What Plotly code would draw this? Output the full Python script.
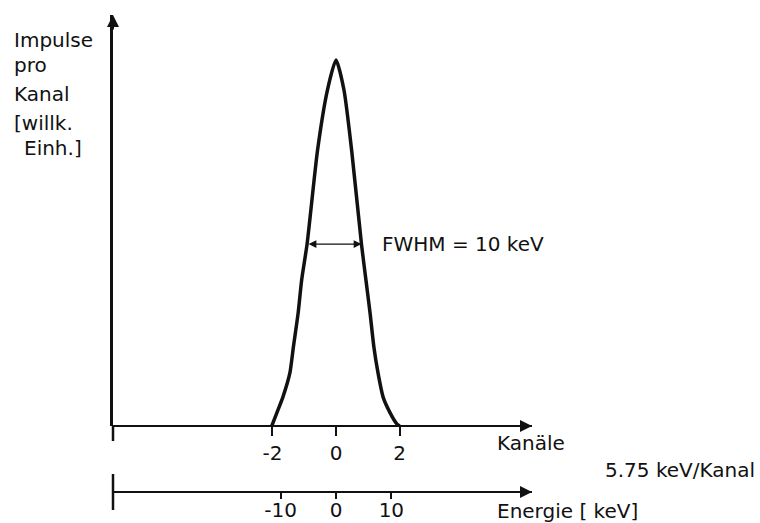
import plotly.graph_objects as go

# ---- data ----
# peak profile, x in channels, y in arbitrary units (peak = 100)
chan = [-2.02, -1.86, -1.67, -1.45, -1.34, -1.19, -1.08, -0.91, -0.58, -0.27, 0.0,
        0.25, 0.49, 0.80, 0.94, 1.07, 1.19, 1.32, 1.48, 1.70, 1.91, 2.0]
counts = [0.0, 3.6, 7.9, 14.5, 21.6, 30.9, 39.9, 49.7, 75.4, 91.8, 100.0,
          91.8, 75.4, 49.7, 39.9, 30.9, 21.6, 14.5, 7.9, 3.6, 0.6, 0.0]

chan_ticks = [-2, 0, 2]
chan_ticktext = ["-2", "0", "2"]
kev_ticks = [-10, 0, 10]
kev_ticktext = ["-10", "0", "10"]
kev_per_channel = 5.75
fwhm_left, fwhm_right, half_max = -0.91, 0.80, 49.7  # channels / counts

ylabel_lines = ["Impulse", "pro", "Kanal", "[willk.", "Einh.]"]

# ---- layout geometry ----
W, H = 760, 523
L, R, T, B = 113, 228, 15, 31
PW, PH = W - L - R, H - T - B
FONT = "DejaVu Sans"
FS = 20
INK = "#111111"

def xp(px):
    return (px - L) / PW

def yp(py):
    return (H - B - py) / PH

x_range = [-7.01, 6.16]
y_dom0 = yp(426)

fig = go.Figure()
fig.add_trace(go.Scatter(x=chan, y=counts, mode="lines",
                         line=dict(color=INK, width=3.5, shape="spline", smoothing=0.6),
                         hoverinfo="skip", showlegend=False))
# invisible trace so the energy axis is drawn
fig.add_trace(go.Scatter(x=kev_ticks, y=[None] * len(kev_ticks), xaxis="x2", yaxis="y",
                         mode="markers", marker=dict(opacity=0), showlegend=False,
                         hoverinfo="skip"))

fig.update_layout(
    width=W, height=H, margin=dict(l=L, r=R, t=T, b=B, autoexpand=False),
    paper_bgcolor="white", plot_bgcolor="white",
    font=dict(family=FONT, size=FS, color=INK),
    showlegend=False,
    xaxis=dict(range=x_range, anchor="free", position=y_dom0, automargin=False,
               showline=True, linecolor=INK, linewidth=2,
               tickvals=chan_ticks, ticktext=chan_ticktext,
               ticks="outside", ticklen=9, tickwidth=1.5, tickcolor=INK,
               tickfont=dict(size=20),
               showgrid=False, zeroline=False, fixedrange=True),
    xaxis2=dict(range=[v * kev_per_channel for v in x_range], overlaying="x",
                anchor="free", position=0, side="bottom", automargin=False,
                showline=True, linecolor=INK, linewidth=2,
                tickvals=kev_ticks, ticktext=kev_ticktext,
                ticks="outside", ticklen=6, tickwidth=1.5, tickcolor=INK,
                tickfont=dict(size=20), ticklabelstandoff=-6,
                showgrid=False, zeroline=False, fixedrange=True),
    yaxis=dict(range=[0, 112.3], domain=[y_dom0, 1], anchor="x", automargin=False,
               showline=True, linecolor=INK, linewidth=2.5,
               showticklabels=False, ticks="",
               showgrid=False, zeroline=False, fixedrange=True),
)

# axis extensions / end bars
fig.add_shape(type="line", xref="paper", yref="paper", x0=0, x1=0,
              y0=y_dom0, y1=yp(441), line=dict(color=INK, width=2.5))
fig.add_shape(type="line", xref="paper", yref="paper", x0=0, x1=0,
              y0=yp(474), y1=yp(510), line=dict(color=INK, width=2.5))

# arrowheads of the axes
arrow = dict(text="", showarrow=True, arrowhead=2, arrowsize=1.2, arrowwidth=2,
             arrowcolor=INK, xref="paper", yref="paper")
fig.add_annotation(x=1, y=y_dom0, ax=-14, ay=0, **arrow)
fig.add_annotation(x=1, y=0, ax=-14, ay=0, **arrow)
fig.add_annotation(x=0, y=1, ax=0, ay=16, **arrow)

# FWHM double arrow
fig.add_annotation(x=fwhm_right, y=half_max, ax=fwhm_left, ay=half_max,
                   xref="x", yref="y", axref="x", ayref="y", text="", showarrow=True,
                   arrowhead=2, startarrowhead=2, arrowside="end+start",
                   arrowsize=1.2, startarrowsize=1.2, arrowwidth=1.3, arrowcolor=INK)

def label(text, px, baseline, xanchor="left"):
    fig.add_annotation(text=text, x=xp(px), y=yp(baseline - 7), xref="paper", yref="paper",
                       xanchor=xanchor, yanchor="middle", showarrow=False,
                       font=dict(family=FONT, size=FS, color=INK))

ylab_pos = [(12, 47), (12, 72), (12, 101), (12, 130), (22, 155)]
for t, (px, bl) in zip(ylabel_lines, ylab_pos):
    label(t, px, bl)

label("FWHM = 10 keV", 380, 251)
label("Kanäle", 495, 450)
label("5.75 keV/Kanal", 603, 477)
label("Energie [ keV]", 495, 518)

fig.write_html("out.html")
